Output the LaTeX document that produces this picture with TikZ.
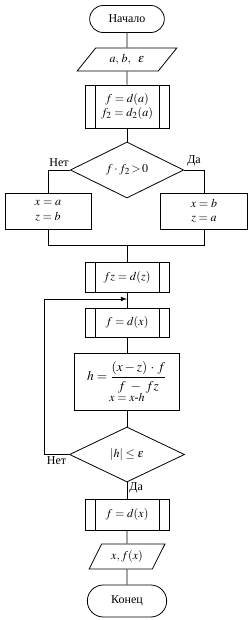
\documentclass[tikz,border=0pt]{standalone}
\usepackage{amsmath}
\usepackage{mathptmx}
\usepackage{fontspec}
\setmainfont{Liberation Serif}
\usepackage{tikz}
\usetikzlibrary{shapes.geometric,shapes.misc,arrows,positioning,calc}

\begin{document}
\begin{tikzpicture}[
    x=0.75pt, y=-0.75pt,
    line/.style={draw, line width=0.6pt},
    terminal/.style={rounded rectangle, line, align=center, inner sep=1pt, minimum width=58pt, minimum height=20.25pt, font=\small},
    io/.style={trapezium, trapezium stretches=true, trapezium left angle=50, trapezium right angle=130, line, inner sep=1pt, minimum width=75pt, minimum height=17.25pt, font=\small},
    box/.style={rectangle, line, align=center, inner sep=1pt, minimum width=63pt, minimum height=23pt, font=\small},
    subr/.style={box, path picture={
        \draw[line width=0.6pt] ([xshift=7.5pt]path picture bounding box.north west) -- ([xshift=7.5pt]path picture bounding box.south west)
              ([xshift=-7.5pt]path picture bounding box.north east) -- ([xshift=-7.5pt]path picture bounding box.south east);}},
    decision/.style={diamond, aspect=2, line, align=center, inner sep=0pt, minimum width=85pt, minimum height=42pt, font=\small},
    lbl/.style={font=\small, inner sep=1.5pt},
    arrow/.style={line, -latex}
]
\useasboundingbox (0,0) rectangle (252,620);

% Nodes
\node[terminal] (start) at (127,19) {Начало};
\node[io] (input) at (127,59.5) {$a,\,b,\ \ \varepsilon$};
\node[subr, minimum height=32.25pt] (init) at (127,106.5) {$f=d(a)$\\[-1pt] $f_2=d_2(a)$};
\node[decision] (cond) at (127,170) {$f\cdot f_2\!>\!0$};
\node[box, minimum width=64.5pt, minimum height=27pt] (lbox) at (48,211) {$x=a$\\ $z=b$};
\node[box, minimum width=65.25pt, minimum height=27pt] (rbox) at (204,211) {$x=b$\\ $z=a$};
\coordinate (join) at (127,245);
\node[subr, minimum height=22.5pt] (fz) at (127,277) {$fz=d(z)$};
\node[subr, minimum height=21.75pt] (fx) at (127,322.5) {$f=d(x)$};
\coordinate (loop) at (127,299);
\coordinate (back) at (44,299);
\node[box, minimum width=78.75pt, minimum height=42.75pt] (hbox) at (127,381.5)
    {\normalsize$h=\dfrac{(x - z)\,\cdot\, f}{f\;-\;fz}$\\[-1pt] $x=x\text{-}h$};
\node[decision, minimum width=86.25pt, minimum height=41.25pt] (cond2) at (127,454.5) {$|h|\le\varepsilon$};
\node[subr, minimum height=23.25pt] (fx2) at (127,514.5) {$f=d(x)$};
\node[io, trapezium left angle=60, trapezium right angle=120, minimum width=57pt, minimum height=18.75pt] (output) at (127,556.5) {$x, f(x)$};
\node[terminal, minimum width=61.5pt, minimum height=24pt] (end) at (127,601) {Конец};

% Edges
\draw[line] (start) -- (input);
\draw[line] (input) -- (init);
\draw[line] (init) -- (cond);

\draw[line] (cond.west) -| node[lbl, pos=0.25, above, yshift=1pt] {Нет} (lbox.north);
\draw[line] (cond.east) -| node[lbl, pos=0.25, above, yshift=1pt] {Да} (rbox.north);

\draw[line] (lbox.south) |- (join);
\draw[line] (rbox.south) |- (join);
\draw[line] (join) -- (fz);

\draw[line] (fz) -- (fx);
\draw[line] (fx) -- (hbox);
\draw[line] (hbox) -- (cond2);

\draw[arrow] (cond2.west) -| node[lbl, pos=0.25, below] {Нет} (back) -- (loop);
\draw[line] (cond2) -- node[lbl, pos=0.35, right] {Да} (fx2);

\draw[line] (fx2) -- (output);
\draw[line] (output) -- (end);

\end{tikzpicture}
\end{document}
